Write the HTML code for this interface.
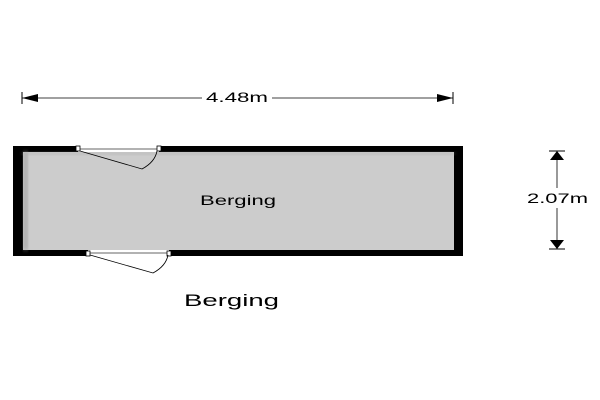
<!DOCTYPE html>
<html><head><meta charset="utf-8"><style>
html,body{margin:0;padding:0;background:#fff;width:600px;height:400px;overflow:hidden}
svg{display:block}
text{font-family:"Liberation Sans",sans-serif;fill:#000}
</style></head><body>
<svg width="600" height="400" viewBox="0 0 600 400">
<defs><filter id="s" x="-5%" y="-10%" width="110%" height="120%"><feGaussianBlur stdDeviation="2"/></filter></defs>
<rect x="13" y="146" width="450" height="110" fill="#000"/>
<rect x="23" y="152" width="431" height="98" fill="#cccccc"/>
<rect x="23" y="152" width="5" height="98" fill="#999" filter="url(#s)" opacity="0.6"/>
<rect x="23" y="152" width="431" height="3" fill="#aaa" filter="url(#s)" opacity="0.5"/>
<rect x="78" y="146" width="81" height="6" fill="#fff"/>
<line x1="78" y1="149" x2="159" y2="149" stroke="#666" stroke-width="1"/>
<rect x="76" y="146" width="4" height="5" fill="#fff" stroke="#000" stroke-width="0.8"/>
<rect x="157" y="146" width="4" height="5" fill="#fff" stroke="#000" stroke-width="0.8"/>
<path d="M80 151 L142 169 Q155 162 157 151" fill="none" stroke="#000" stroke-width="0.8"/>
<rect x="88" y="250" width="81" height="6" fill="#fff"/>
<line x1="88" y1="253" x2="169" y2="253" stroke="#666" stroke-width="1"/>
<rect x="86" y="251" width="4" height="5" fill="#fff" stroke="#000" stroke-width="0.8"/>
<rect x="167" y="251" width="4" height="5" fill="#fff" stroke="#000" stroke-width="0.8"/>
<path d="M90 255 L153 273 Q166 266 168 255" fill="none" stroke="#000" stroke-width="0.8"/>
<text x="200" y="205" font-size="14" textLength="76" lengthAdjust="spacingAndGlyphs">Berging</text>
<text x="184" y="306" font-size="17" textLength="95" lengthAdjust="spacingAndGlyphs">Berging</text>
<line x1="22" y1="98" x2="202" y2="98" stroke="#000" stroke-width="0.8"/>
<line x1="272" y1="98" x2="453" y2="98" stroke="#000" stroke-width="0.8"/>
<line x1="22" y1="92" x2="22" y2="104" stroke="#000" stroke-width="1"/>
<line x1="453" y1="92" x2="453" y2="104" stroke="#000" stroke-width="1"/>
<polygon points="22,98 38,94 38,102" fill="#000"/>
<polygon points="453,98 437,94 437,102" fill="#000"/>
<text x="206" y="102" font-size="14" textLength="62" lengthAdjust="spacingAndGlyphs">4.48m</text>
<line x1="557" y1="151" x2="557" y2="188" stroke="#000" stroke-width="0.8"/>
<line x1="557" y1="208" x2="557" y2="249" stroke="#000" stroke-width="0.8"/>
<line x1="549" y1="151" x2="565" y2="151" stroke="#000" stroke-width="1"/>
<line x1="549" y1="249" x2="565" y2="249" stroke="#000" stroke-width="1"/>
<polygon points="557,151 550,160 564,160" fill="#000"/>
<polygon points="557,249 550,240 564,240" fill="#000"/>
<rect x="525" y="190" width="64" height="16" fill="#fff"/>
<text x="527" y="203" font-size="14" textLength="61" lengthAdjust="spacingAndGlyphs">2.07m</text>
</svg>
</body></html>
